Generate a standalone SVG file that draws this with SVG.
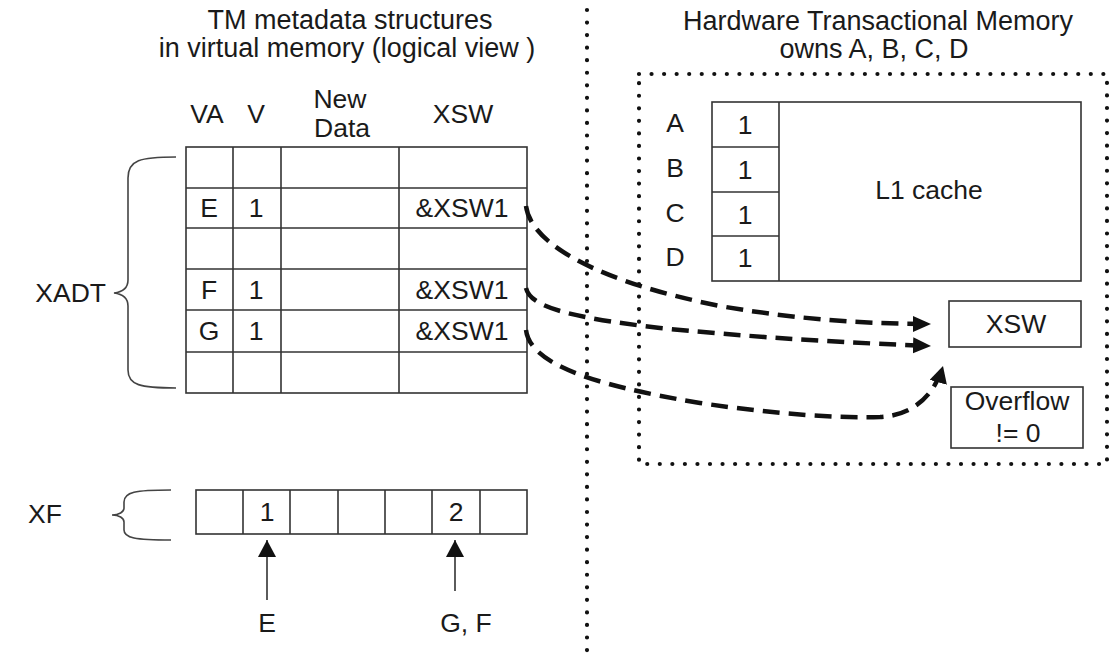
<svg xmlns="http://www.w3.org/2000/svg" width="1113" height="670" viewBox="0 0 1113 670">
<style>
text{font-family:"Liberation Sans",Arial,sans-serif;font-size:26.5px;fill:#1a1a1a;text-anchor:middle}
.title{font-size:27px}
.cell{fill:#fff;stroke:#333;stroke-width:1.6}
.ln{fill:none;stroke:#333;stroke-width:1.6}
.brace{fill:none;stroke:#444;stroke-width:1.6}
.dots{fill:none;stroke:#111;stroke-width:4.2;stroke-linecap:round;stroke-dasharray:0 12.55}
.dash{fill:none;stroke:#111;stroke-width:4.5;stroke-dasharray:17 9}
.thin{fill:none;stroke:#333;stroke-width:1.6}
</style>
<defs>
<marker id="ah" markerUnits="userSpaceOnUse" markerWidth="20" markerHeight="18" refX="18" refY="8" orient="auto">
<path d="M0,0 L18,8 L0,16 z" fill="#111"/>
</marker>
<marker id="ahs" markerUnits="userSpaceOnUse" markerWidth="20" markerHeight="20" refX="17" refY="9" orient="auto">
<path d="M0,0 L17,9 L0,18 z" fill="#111"/>
</marker>
</defs>

<g id="titles">
<text class="title" x="350" y="29">TM metadata structures</text>
<text class="title" x="347" y="57">in virtual memory (logical view )</text>
<text class="title" x="878" y="30">Hardware Transactional Memory</text>
<text class="title" x="874" y="58">owns A, B, C, D</text>
</g>

<g id="separator">
<line class="dots" x1="587" y1="10" x2="587" y2="660"/>
</g>

<g id="xadt">
<text x="207" y="123">VA</text>
<text x="256" y="123">V</text>
<text x="340" y="108">New</text>
<text x="342" y="137">Data</text>
<text x="463" y="123">XSW</text>
<rect class="cell" x="186" y="147" width="341" height="246"/>
<line class="ln" x1="233" y1="147" x2="233" y2="393"/>
<line class="ln" x1="281" y1="147" x2="281" y2="393"/>
<line class="ln" x1="399" y1="147" x2="399" y2="393"/>
<line class="ln" x1="186" y1="188" x2="527" y2="188"/>
<line class="ln" x1="186" y1="228" x2="527" y2="228"/>
<line class="ln" x1="186" y1="269" x2="527" y2="269"/>
<line class="ln" x1="186" y1="310" x2="527" y2="310"/>
<line class="ln" x1="186" y1="352" x2="527" y2="352"/>
<text x="209" y="217">E</text>
<text x="256" y="217">1</text>
<text x="462" y="217">&amp;XSW1</text>
<text x="209" y="299">F</text>
<text x="256" y="299">1</text>
<text x="462" y="299">&amp;XSW1</text>
<text x="209" y="340">G</text>
<text x="256" y="340">1</text>
<text x="462" y="340">&amp;XSW1</text>
</g>

<g id="xadt-label">
<path class="brace" d="M176,157 C140,157 128,160 128,178 L128,280 C128,288 122,292 114,293 C122,294 128,298 128,306 L128,370 C128,385 140,388 176,388"/>
<text x="106" y="302" style="text-anchor:end">XADT</text>
</g>

<g id="xf">
<rect class="cell" x="196" y="490" width="331" height="44"/>
<line class="ln" x1="243" y1="490" x2="243" y2="534"/>
<line class="ln" x1="290" y1="490" x2="290" y2="534"/>
<line class="ln" x1="338" y1="490" x2="338" y2="534"/>
<line class="ln" x1="385" y1="490" x2="385" y2="534"/>
<line class="ln" x1="432" y1="490" x2="432" y2="534"/>
<line class="ln" x1="480" y1="490" x2="480" y2="534"/>
<text x="267" y="521">1</text>
<text x="456" y="521">2</text>
</g>

<g id="xf-label">
<path class="brace" d="M171,490 C135,490 124,492 124,502 L124,508 C124,512 119,515 112,515 C119,515 124,518 124,522 L124,530 C124,538 135,540 171,540"/>
<text x="45" y="523">XF</text>
</g>

<g id="pointer-e">
<text x="267" y="632">E</text>
</g>
<g id="pointer-gf">
<text x="466" y="632">G, F</text>
</g>

<g id="htm">
<rect x="639" y="74" width="468" height="390" class="dots"/>
</g>

<g id="l1cache">
<rect class="cell" x="712" y="102" width="369" height="179"/>
<line class="ln" x1="779" y1="102" x2="779" y2="281"/>
<line class="ln" x1="712" y1="147" x2="779" y2="147"/>
<line class="ln" x1="712" y1="192" x2="779" y2="192"/>
<line class="ln" x1="712" y1="236" x2="779" y2="236"/>
<text x="675" y="132">A</text>
<text x="675" y="177">B</text>
<text x="675" y="222">C</text>
<text x="675" y="266">D</text>
<text x="745" y="134">1</text>
<text x="745" y="179">1</text>
<text x="745" y="224">1</text>
<text x="745" y="267">1</text>
<text x="929" y="199">L1 cache</text>
</g>

<g id="xsw">
<rect class="cell" x="949" y="301" width="132" height="46"/>
<text x="1016" y="333">XSW</text>
</g>

<g id="overflow">
<rect class="cell" x="951" y="387" width="132" height="61"/>
<text x="1017" y="410">Overflow</text>
<text x="1018" y="442">!= 0</text>
</g>

<g id="connectors">
<path class="dash" d="M526,206 C531,245 600,282 720,306 C800,320 870,324 931,324" marker-end="url(#ah)"/>
<path class="dash" d="M526,288 C530,306 565,317 660,328 C780,340 880,344 931,346" marker-end="url(#ah)"/>
<path class="dash" d="M526,330 C530,362 585,384 700,403 C780,415 840,418 880,417 C918,415 936,390 943,366" marker-end="url(#ahs)"/>
<line class="thin" x1="267" y1="600" x2="267" y2="540" marker-end="url(#ahs)"/>
<line class="thin" x1="455" y1="591" x2="455" y2="540" marker-end="url(#ahs)"/>
</g>
</svg>
